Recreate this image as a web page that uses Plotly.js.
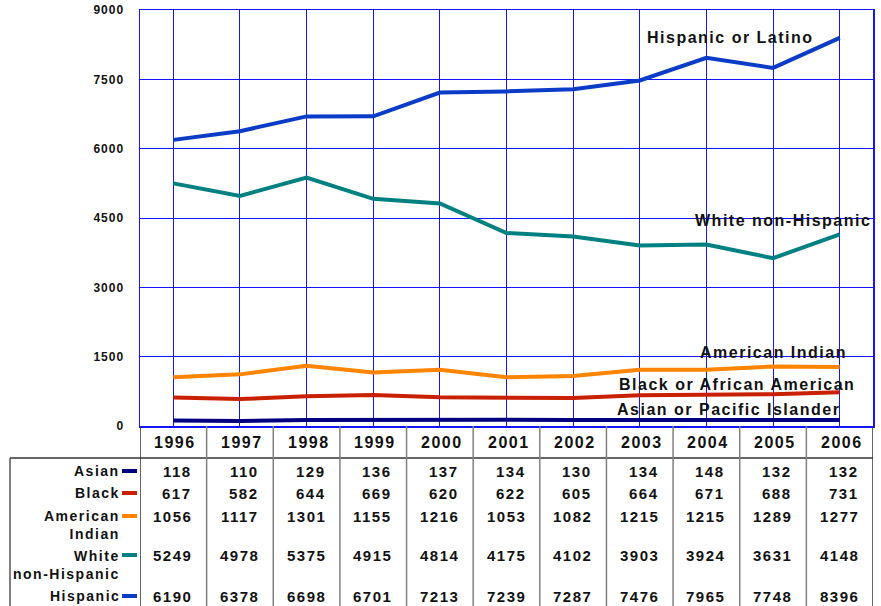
<!DOCTYPE html>
<html>
<head>
<meta charset="utf-8">
<script src="https://cdn.plot.ly/plotly-3.0.1.min.js"></script>
<style>
html,body{margin:0;padding:0;background:#fff;}
#chart{width:881px;height:606px;}
.annotation-text{letter-spacing:1.5px;}
.ytick text{letter-spacing:1px;}
</style>
</head>
<body>
<div id="chart"></div>
<script>
// ---- data ----
const years = [1996,1997,1998,1999,2000,2001,2002,2003,2004,2005,2006];
const asian = [118,110,129,136,137,134,130,134,148,132,132];
const black = [617,582,644,669,620,622,605,664,671,688,731];
const americanIndian = [1056,1117,1301,1155,1216,1053,1082,1215,1215,1289,1277];
const whiteNonHispanic = [5249,4978,5375,4915,4814,4175,4102,3903,3924,3631,4148];
const hispanic = [6190,6378,6698,6701,7213,7239,7287,7476,7965,7748,8396];
const rowLabels = ["Asian","Black","American<br>Indian","White<br>non-Hispanic","Hispanic"];
const lineLabels = ["Asian or Pacific Islander","Black or African American","American Indian","White non-Hispanic","Hispanic or Latino"];
const yTicks = [0,1500,3000,4500,6000,7500,9000];

// ---- styling ----
const series = [asian, black, americanIndian, whiteNonHispanic, hispanic];
const colors = ["#000080","#c82000","#ff8400","#008080","#0a3cc8"];
const FONT = "Liberation Sans, Arial, sans-serif";

// plot area in pixels: x 140..873, y 10..426
const PL = 140, PR = 873, PT = 10, PB = 426;
const px = X => (X - PL) / (PR - PL);
const py = Y => (PB - Y) / (PB - PT);

const traces = series.map((s, i) => ({
  x: years, y: s, type: "scatter", mode: "lines",
  line: {color: colors[i], width: 4},
  showlegend: false, hoverinfo: "skip"
}));

// label positions (pixel-derived anchor points)
const labelPos = [
  {X: 615, Y: 409}, {X: 617, Y: 384}, {X: 698, Y: 352}, {X: 693, Y: 220}, {X: 645, Y: 38}
];
const annotations = [];
lineLabels.forEach((t, i) => {
  annotations.push({
    text: t, xref: "paper", yref: "paper", x: px(labelPos[i].X), y: py(labelPos[i].Y),
    xanchor: "left", yanchor: "middle", showarrow: false,
    font: {family: FONT, size: 16, color: "#111", weight: 700}
  });
});

// table header (years)
years.forEach(yr => {
  annotations.push({
    text: String(yr), xref: "x", yref: "paper", x: yr, y: py(442),
    xanchor: "center", yanchor: "middle", showarrow: false, xshift: 2,
    font: {family: FONT, size: 16, color: "#111", weight: 700}
  });
});

// table rows
const rowY = [471, 493, 516, 555, 596];
const labelY = [471, 493, 524.5, 564.5, 596];
series.forEach((s, r) => {
  annotations.push({
    text: rowLabels[r], xref: "paper", yref: "paper", x: px(122), y: py(labelY[r]),
    xanchor: "right", yanchor: "middle", align: "right", showarrow: false,
    font: {family: FONT, size: 14, color: "#111", weight: 700}
  });
  s.forEach((v, c) => {
    annotations.push({
      text: String(v), xref: "x", yref: "paper", x: years[c], y: py(rowY[r]),
      xanchor: "right", yanchor: "middle", showarrow: false, xshift: 21,
      font: {family: FONT, size: 15, color: "#111", weight: 700}
    });
  });
});

// table lines
const shapes = [];
shapes.push({type: "line", xref: "paper", yref: "paper", x0: px(10), x1: 1, y0: py(458), y1: py(458), line: {color: "#333", width: 1.5}});
shapes.push({type: "line", xref: "paper", yref: "paper", x0: px(10), x1: px(10), y0: py(458), y1: py(606), line: {color: "#555", width: 1.5}});
for (let k = 0; k <= years.length; k++) {
  const xb = years[0] - 0.5 + k;
  const edge = (k === 0 || k === years.length);
  shapes.push({type: "line", xref: "x", yref: "paper", x0: xb, x1: xb, y0: 0, y1: py(606),
    line: {color: edge ? "#333" : "#808080", width: 1.5}});
}
// legend keys in table
series.forEach((s, r) => {
  shapes.push({type: "line", xref: "paper", yref: "paper", x0: px(122), x1: px(137), y0: py(rowY[r]), y1: py(rowY[r]),
    line: {color: colors[r], width: 4}});
});

const layout = {
  width: 881, height: 606,
  margin: {l: PL, r: 881 - PR, t: PT, b: 606 - PB, pad: 0},
  paper_bgcolor: "#fff", plot_bgcolor: "#fff",
  xaxis: {
    range: [years[0] - 0.5, years[years.length - 1] + 0.5],
    tickvals: years, showticklabels: false, ticks: "",
    showgrid: true, gridcolor: "#1414ff", gridwidth: 1,
    showline: true, linecolor: "#1414ff", linewidth: 1.5, mirror: true, zeroline: false
  },
  yaxis: {
    range: [0, 9000], tickvals: yTicks, tickformat: "d", ticks: "",
    showgrid: true, gridcolor: "#1414ff", gridwidth: 1,
    showline: true, linecolor: "#1414ff", linewidth: 1.5, mirror: true, zeroline: false,
    ticklabelstandoff: 12,
    tickfont: {family: FONT, size: 12, color: "#111", weight: 700}
  },
  shapes: shapes,
  annotations: annotations
};

Plotly.newPlot("chart", traces, layout, {displayModeBar: false, staticPlot: true});
</script>
</body>
</html>
